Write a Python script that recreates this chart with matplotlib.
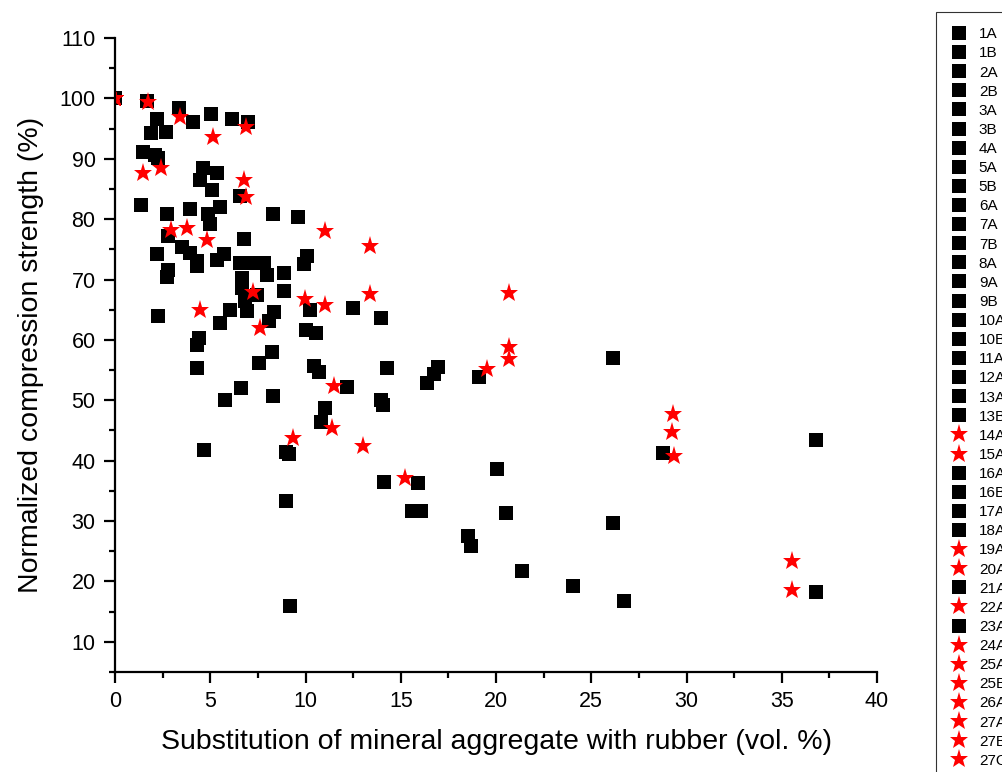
import matplotlib
matplotlib.use("Agg")
import matplotlib.pyplot as plt
from matplotlib.ticker import MultipleLocator

plt.rcParams["font.family"] = ["Liberation Sans", "DejaVu Sans"]

# legend order and marker type of each mix
series = ["1A", "1B", "2A", "2B", "3A", "3B", "4A", "5A", "5B", "6A", "7A", "7B",
          "8A", "9A", "9B", "10A", "10B", "11A", "12A", "13A", "13B", "14A", "15A",
          "16A", "16B", "17A", "18A", "19A", "20A", "21A", "22A", "23A", "24A",
          "25A", "25B", "26A", "27A", "27B", "27C"]
star_series = ["14A", "15A", "19A", "20A", "22A", "24A", "25A", "25B", "26A",
               "27A", "27B", "27C"]

# square-marker points (every mix also has the 0 % / 100 % reference)
sq_mix = (["1A"] * 4 + ["1B"] * 3 + ["2A"] * 3 + ["2B"] * 3 + ["3A"] * 3 + ["3B"] * 3
          + ["4A"] * 4 + ["5A"] * 2 + ["5B"] * 3 + ["6A"] * 3 + ["7A"] * 3 + ["7B"] * 3
          + ["8A"] * 4 + ["9A"] * 4 + ["9B"] * 5 + ["10A"] * 4 + ["10B"] * 4
          + ["11A"] * 4 + ["12A"] * 4 + ["13A"] * 4 + ["13B"] * 5 + ["16A"] * 6
          + ["16B"] * 5 + ["17A"] * 4 + ["18A"] * 4 + ["21A"] * 4 + ["23A"] * 2)
sq_x = [1.68, 3.37, 5.05, 6.16,
        4.10, 7.00, 2.21,
        1.89, 2.68, 1.47,
        2.10, 2.26, 1.37,
        4.63, 5.37, 6.58,
        4.47, 5.10, 5.53,
        2.74, 3.95, 4.89, 5.00,
        8.30, 9.58,
        2.80, 3.50, 3.95,
        4.30, 4.30, 2.19,
        2.80, 2.75, 2.28,
        5.35, 5.74, 6.75,
        6.58, 7.10, 7.80, 7.98,
        8.86, 8.86, 9.91, 10.09,
        6.68, 6.68, 6.84, 6.95, 7.45,
        6.05, 5.53, 4.39, 4.30,
        8.33, 8.07, 8.25, 7.54,
        10.05, 10.53, 10.26, 12.51,
        10.44, 10.70, 13.95, 14.30,
        4.30, 6.61, 5.79, 4.68,
        8.30, 8.95, 9.12, 8.95, 9.21,
        12.19, 11.00, 10.83, 13.95, 14.09, 14.12,
        16.93, 16.75, 16.37, 19.12, 26.14,
        15.88, 20.05, 15.61, 16.05,
        20.53, 18.54, 18.68, 21.37,
        24.04, 26.72, 26.14, 28.77,
        36.80, 36.80]
sq_y = [99.5, 98.4, 97.4, 96.6,
        96.1, 96.1, 96.6,
        94.3, 94.4, 91.1,
        90.7, 90.2, 82.3,
        88.4, 87.7, 83.9,
        86.4, 84.8, 82.0,
        80.9, 81.7, 80.9, 79.2,
        80.9, 80.3,
        77.2, 75.4, 74.4,
        73.0, 72.2, 74.2,
        71.6, 70.4, 63.9,
        73.3, 74.3, 76.7,
        72.8, 72.8, 72.8, 70.8,
        71.1, 68.1, 72.5, 73.9,
        70.3, 68.6, 66.4, 64.8, 67.5,
        65.0, 62.8, 60.3, 59.2,
        64.7, 63.1, 58.0, 56.1,
        61.6, 61.2, 65.0, 65.3,
        55.6, 54.7, 63.6, 55.4,
        55.3, 52.1, 50.0, 41.8,
        50.7, 41.4, 41.1, 33.3, 15.9,
        52.2, 48.7, 46.4, 50.0, 49.2, 36.4,
        55.5, 54.4, 52.8, 53.9, 57.0,
        36.3, 38.6, 31.7, 31.7,
        31.4, 27.5, 25.8, 21.7,
        19.3, 16.7, 29.7, 41.2,
        43.4, 18.2]

# star-marker points
st_mix = (["14A"] * 4 + ["15A"] * 4 + ["19A"] * 3 + ["20A"] * 3 + ["22A"] * 3
          + ["24A"] * 2 + ["25A"] * 4 + ["25B"] * 1 + ["26A"] * 2 + ["27A"] * 2
          + ["27B"] * 3 + ["27C"] * 2)
st_x = [1.74, 3.42, 5.16, 6.89,
        1.47, 2.42, 6.79, 6.89,
        2.93, 3.80, 4.83,
        4.47, 7.23, 7.60,
        9.96, 11.00, 11.00,
        13.38, 13.38,
        9.35, 11.40, 13.03, 15.21,
        11.49,
        19.50, 20.70,
        20.70, 20.70,
        29.30, 29.26, 29.33,
        35.53, 35.53]
st_y = [99.4, 96.9, 93.6, 95.2,
        87.6, 88.4, 86.4, 83.7,
        78.2, 78.6, 76.5,
        65.0, 67.9, 61.9,
        66.8, 65.7, 78.1,
        75.6, 67.6,
        43.8, 45.4, 42.4, 37.1,
        52.3,
        55.2, 56.9,
        67.7, 58.9,
        47.8, 44.7, 40.8,
        23.4, 18.6]

fig = plt.figure(figsize=(10.03, 7.72), dpi=100)
ax = fig.add_axes([0.1147, 0.1295, 0.7597, 0.8213])

for name in series:
    if name in star_series:
        xs = [0.0] + [x for x, m in zip(st_x, st_mix) if m == name]
        ys = [100.0] + [y for y, m in zip(st_y, st_mix) if m == name]
        ax.plot(xs, ys, linestyle="none", marker="*", markersize=14,
                color="red", markeredgewidth=0, label=name)
    else:
        xs = [0.0] + [x for x, m in zip(sq_x, sq_mix) if m == name]
        ys = [100.0] + [y for y, m in zip(sq_y, sq_mix) if m == name]
        ax.plot(xs, ys, linestyle="none", marker="s", markersize=10,
                color="black", markeredgewidth=0, label=name)

ax.set_xlim(0, 40)
ax.set_ylim(5, 110)
ax.xaxis.set_major_locator(MultipleLocator(5))
ax.xaxis.set_minor_locator(MultipleLocator(2.5))
ax.yaxis.set_major_locator(MultipleLocator(10))
ax.yaxis.set_minor_locator(MultipleLocator(5))
ax.set_yticks(range(10, 111, 10))
ax.spines["top"].set_visible(False)
ax.spines["right"].set_visible(False)
for s in ("left", "bottom"):
    ax.spines[s].set_linewidth(1.6)
ax.tick_params(which="major", direction="out", length=8, width=1.6, pad=6,
               labelsize=15.5)
ax.tick_params(which="minor", direction="out", length=4, width=1.6)

ax.set_xlabel("Substitution of mineral aggregate with rubber (vol. %)",
              fontsize=20.5, labelpad=12)
ax.set_ylabel("Normalized compression strength (%)", fontsize=20.5, labelpad=11)

leg = fig.legend(loc="upper left", bbox_to_anchor=(936 / 1003, 1 - 12 / 772),
                 borderaxespad=0, frameon=True, fancybox=False, fontsize=11,
                 labelspacing=0.335, handlelength=1.0, handletextpad=0.8,
                 borderpad=1.0, numpoints=1, markerscale=1.0)
leg.get_frame().set_edgecolor("black")
leg.get_frame().set_linewidth(0.8)

fig.savefig("out.png", dpi=100)
